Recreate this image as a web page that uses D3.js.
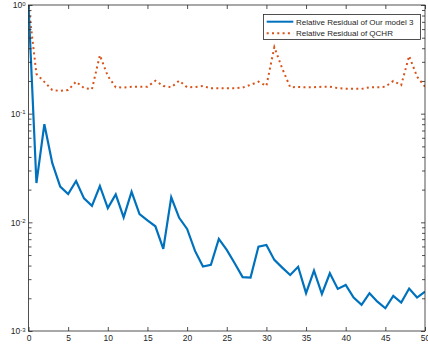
<!DOCTYPE html>
<html>
<head>
<meta charset="utf-8">
<script src="https://cdn.jsdelivr.net/npm/d3@7"></script>
<style>
  html, body { margin: 0; padding: 0; background: #fff; }
  svg { display: block; font-family: "Liberation Sans", Arial, sans-serif; }
</style>
</head>
<body>
<div id="chart"></div>
<script>
// Iteration index 0..50
const iterations = d3.range(0, 51);

// Relative Residual of Our model 3
const modelValues = [
  1.0, 0.023, 0.080, 0.035, 0.0213, 0.0182, 0.024, 0.0166, 0.0142, 0.0216,
  0.0135, 0.0181, 0.0111, 0.0191, 0.0119, 0.0104, 0.0092, 0.0057, 0.0170, 0.0110,
  0.0087, 0.00546, 0.00392, 0.00406, 0.00703, 0.00557, 0.0042, 0.00313, 0.0031, 0.00598,
  0.0062, 0.00451, 0.00383, 0.00328, 0.0039, 0.00223, 0.0036, 0.00219, 0.0034, 0.00244,
  0.00265, 0.00203, 0.00174, 0.00223, 0.00186, 0.00162, 0.0021, 0.00183, 0.00246, 0.00203,
  0.0023
];

// Relative Residual of QCHR
const qchrValues = [
  1.0, 0.232, 0.196, 0.165, 0.162, 0.165, 0.197, 0.172, 0.168, 0.345,
  0.222, 0.175, 0.174, 0.177, 0.177, 0.177, 0.201, 0.180, 0.175, 0.201,
  0.175, 0.176, 0.180, 0.171, 0.171, 0.171, 0.171, 0.174, 0.184, 0.197,
  0.180, 0.410, 0.260, 0.175, 0.176, 0.175, 0.175, 0.177, 0.177, 0.172,
  0.170, 0.170, 0.169, 0.175, 0.175, 0.177, 0.200, 0.183, 0.340, 0.219,
  0.177
];

const seriesNames = ['Relative Residual of Our model 3', 'Relative Residual of QCHR'];
const seriesColors = ['#0072BD', '#D95319'];

const xTicks = [0, 5, 10, 15, 20, 25, 30, 35, 40, 45, 50];
const yTicks = [1e-3, 1e-2, 1e-1, 1];
const yExponents = ['-3', '-2', '-1', '0'];

const W = 428, H = 351;
const plotLeft = 28.5, plotRight = 425, plotTop = 5, plotBottom = 331;
const axisColor = '#262626';

const svg = d3.select('#chart').append('svg')
  .attr('width', W).attr('height', H);

const x = d3.scaleLinear().domain([0, 50]).range([plotLeft, plotRight]);
const y = d3.scaleLog().domain([1e-3, 1]).range([plotBottom, plotTop]);

const yMinor = [];
[1e-3, 1e-2, 1e-1].forEach(d => {
  for (let k = 2; k <= 9; k++) yMinor.push(d * k);
});

// clip to plot area
svg.append('defs').append('clipPath').attr('id', 'plot-clip')
  .append('rect')
  .attr('x', plotLeft).attr('y', plotTop)
  .attr('width', plotRight - plotLeft).attr('height', plotBottom - plotTop);

const line = d3.line()
  .x((d, i) => x(iterations[i]))
  .y(d => y(d));

const plot = svg.append('g').attr('clip-path', 'url(#plot-clip)');

plot.append('path')
  .datum(qchrValues)
  .attr('fill', 'none')
  .attr('stroke', seriesColors[1])
  .attr('stroke-width', 2)
  .attr('stroke-dasharray', '2,3.3')
  .attr('d', line);

plot.append('path')
  .datum(modelValues)
  .attr('fill', 'none')
  .attr('stroke', seriesColors[0])
  .attr('stroke-width', 2.2)
  .attr('d', line);

function styleAxis(g) {
  g.select('.domain').remove();
  g.selectAll('.tick line').attr('stroke', axisColor).attr('stroke-width', 0.8);
  g.selectAll('.tick text').attr('fill', axisColor).attr('font-size', 8.5)
    .attr('font-family', '"Liberation Sans", Arial, sans-serif');
}

// bottom axis, ticks inside
svg.append('g')
  .attr('transform', `translate(0,${plotBottom})`)
  .call(d3.axisBottom(x).tickValues(xTicks).tickSize(-4).tickPadding(4).tickFormat(d3.format('d')))
  .call(styleAxis);

// top axis, ticks only
svg.append('g')
  .attr('transform', `translate(0,${plotTop})`)
  .call(d3.axisTop(x).tickValues(xTicks).tickSize(-4).tickFormat(''))
  .call(styleAxis);

// left axis with 10^n labels
const yAxisLeft = svg.append('g')
  .attr('transform', `translate(${plotLeft},0)`)
  .call(d3.axisLeft(y).tickValues(yTicks).tickSize(-4).tickPadding(3).tickFormat(''))
  .call(styleAxis);

yAxisLeft.selectAll('.tick text').each(function(d, i) {
  const t = d3.select(this).attr('dy', '0.32em');
  t.append('tspan').text('10');
  t.append('tspan').attr('dy', '-0.45em').attr('font-size', 6).text(yExponents[i]);
});

svg.append('g')
  .attr('transform', `translate(${plotLeft},0)`)
  .call(d3.axisLeft(y).tickValues(yMinor).tickSize(-3).tickFormat(''))
  .call(styleAxis);

// right axis, ticks only
svg.append('g')
  .attr('transform', `translate(${plotRight},0)`)
  .call(d3.axisRight(y).tickValues(yTicks).tickSize(-4).tickFormat(''))
  .call(styleAxis);

svg.append('g')
  .attr('transform', `translate(${plotRight},0)`)
  .call(d3.axisRight(y).tickValues(yMinor).tickSize(-3).tickFormat(''))
  .call(styleAxis);

// box
svg.append('rect')
  .attr('x', plotLeft).attr('y', plotTop)
  .attr('width', plotRight - plotLeft).attr('height', plotBottom - plotTop)
  .attr('fill', 'none')
  .attr('stroke', axisColor)
  .attr('stroke-width', 0.8);

// legend
const legend = svg.append('g');
legend.append('rect')
  .attr('x', 263.5).attr('y', 14.5)
  .attr('width', 157).attr('height', 25)
  .attr('fill', '#fff')
  .attr('stroke', axisColor)
  .attr('stroke-width', 0.8);

seriesNames.forEach((name, i) => {
  const ly = 21.7 + i * 11.6;
  legend.append('line')
    .attr('x1', 266.7).attr('x2', 293.3)
    .attr('y1', ly).attr('y2', ly)
    .attr('stroke', seriesColors[i])
    .attr('stroke-width', 2)
    .attr('stroke-dasharray', i === 1 ? '2,3.3' : null);
  legend.append('text')
    .attr('x', 296).attr('y', ly)
    .attr('dy', '0.35em')
    .attr('font-size', 8)
    .attr('fill', axisColor)
    .text(name);
});
</script>
</body>
</html>
